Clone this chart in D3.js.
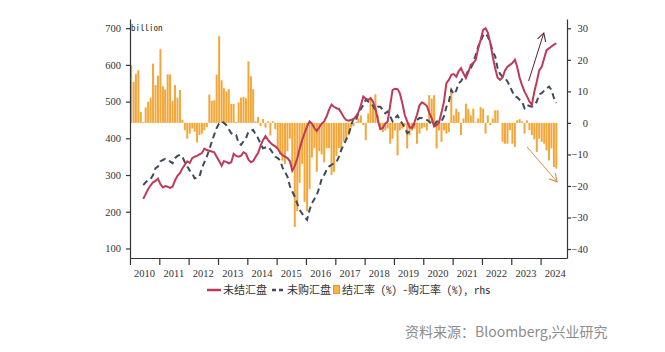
<!DOCTYPE html>
<html>
<head>
<meta charset="utf-8">
<script src="https://cdn.jsdelivr.net/npm/d3@7"></script>
<style>
  body { margin: 0; background: #fff; }
  svg { display: block; }
</style>
</head>
<body>
<div id="chart"></div>
<script>
// monthly series, bars start Jan 2010, lines start Jun 2010
var barStart = "2010-01", lineStart = "2010-06";

// 结汇率(%) - 购汇率(%), rhs
var netRate = [
  18.3, 13, 15.6, 16.7, 3.5, 0.3, 4.9, 6.7, 8, 18.8, 12, 15,
  23.4, 11.6, 10.6, 15.4, 15.4, 7, 12, 8, 10.4, 1, -2.3, -5,
  -3.4, -1.8, -2.8, -6.2, -3.9, -3.4, -2.3, -1.3, 9, 7, 7.2, 15.3,
  27.5, 13.5, 11, 10, 10.7, 6, 6, 0.3, 6.5, 8, 8.3, 7.8,
  19.5, 14.8, 10.7, 0.5, 1.9, -1, 1.2, -1.5, 0.5, -4, 0.5, -2,
  -8, -10, -12, -13, -9, -5, -14, -33, -28, -19, -13, -25,
  -28, -21, -11, -8, -15.5, -9, -10, -12.5, -8, -8, -16.5, -15.5,
  -10.5, -8, -8.5, -6, -5, -4, -1.5, -1, 0.3, 1.4, 2.4, -0.7,
  -5.5, 3, 8.3, 5, 9.1, 2.4, -1.8, -2.9, -2.4, -1.8, -6.6, -5,
  -2.4, -10.3, -2.4, -1.8, -0.7, -8.1, -3.9, -2.4, -1.8, -6.6, -3.4, -1.8,
  -1.3, -2.4, 8.8, 7.7, 8.8, -8.1, -2.4, -6, -2.4, -3.4, -2.9, 10.7,
  2.4, 4.5, 3.5, -3.9, 1.4, 6.1, 4.5, 2.4, 4.5, 0.2, 1.4, 5,
  4.5, -3.4, 2.4, -0.7, 1.4, 4, 4, 0, -6, -6.6, -6.6, -2.3,
  -6.6, -7.6, 0.8, 1.2, 0.5, -3.4, 0.8, -2.3, -3.9, -5.2, -9.2, -5,
  -6, -6.6, -8.7, -11.9, -8.1, -14, -14.5
];

// 未结汇盘, billion
var unsettled = [
  235, 248, 262, 272, 280, 284, 290,
  275, 266, 270, 268, 265, 268, 285, 298, 305, 318, 328, 337,
  333, 346, 350, 352, 356, 360, 372, 368, 366, 364, 362, 350,
  338, 325, 338, 336, 332, 335, 358, 352, 350, 353, 362, 358,
  342, 335, 338, 350, 360, 380, 395, 406, 396, 388, 382, 378,
  372, 360, 354, 350, 346, 338, 312, 325, 345, 372, 395, 414,
  432, 446, 440, 428, 420, 430, 440, 446, 460, 478, 492, 486,
  482, 480, 470, 458, 450, 448, 450, 452, 460, 470, 490, 514,
  508, 505, 509, 500, 482, 450, 425, 428, 440, 446, 490, 532,
  535, 534, 523, 496, 464, 446, 430, 428, 445, 464, 490, 498,
  494, 488, 470, 455, 432, 436, 443, 470, 500, 550, 559, 573,
  575, 568, 582, 591, 577, 564, 580, 600, 605, 614, 645, 668,
  695, 700, 688, 660, 623, 590, 565, 559, 566, 585, 595, 600,
  605, 614, 595, 565, 545, 527, 515, 500, 491, 527, 555, 585,
  595, 618, 640, 645, 650, 655, 659
];

// 未购汇盘, billion
var unpurchased = [
  273, 280, 287, 289, 300, 319, 323,
  337, 341, 344, 340, 337, 332, 346, 352, 355, 350, 335, 323,
  312, 305, 291, 293, 296, 319, 335, 350, 370, 390, 410, 428,
  440, 446, 442, 436, 425, 414, 410, 409, 387, 382, 392, 400,
  418, 420, 423, 410, 400, 385, 373, 375, 377, 370, 360, 350,
  346, 340, 320, 309, 296, 270, 255, 241, 222, 205, 195, 185,
  178, 205, 223, 235, 246, 265, 290, 300, 314, 323, 328, 332,
  335, 350, 368, 382, 396, 410, 432, 455, 450, 468, 480, 491,
  505, 500, 496, 488, 477, 486, 486, 478, 468, 473, 460, 446,
  455, 462, 450, 440, 430, 414, 418, 430, 440, 450, 455, 455,
  452, 450, 446, 438, 436, 446, 446, 446, 460, 486, 500, 532,
  520, 530, 550, 555, 568, 570, 586, 591, 605, 627, 650, 664,
  680, 686, 677, 660, 636, 623, 591, 575, 568, 564, 555, 541,
  527, 514, 512, 505, 500, 482, 491, 488, 486, 490, 500, 520,
  523, 530, 536, 541, 532, 510, 496
];

var years = [2010, 2011, 2012, 2013, 2014, 2015, 2016, 2017, 2018, 2019, 2020, 2021, 2022, 2023, 2024];
var leftTicks = [100, 200, 300, 400, 500, 600, 700];
var rightTicks = [-40, -30, -20, -10, 0, 10, 20, 30];

// annotation arrows: [date, value]
var upArrow = [["2023-08-05", 556], ["2024-02-10", 687]];      // left axis
var downArrow = [["2023-07-16", -7.6], ["2024-07-25", -18.7]];  // right axis

var width = 665, height = 352;
var parseMonth = d3.timeParse("%Y-%m");
var parseDay = d3.timeParse("%Y-%m-%d");
var serif = "'Liberation Serif', 'DejaVu Serif', serif";
var mono = "'Noto Sans Mono CJK SC', 'Noto Sans CJK SC', monospace";

function months(start, n) {
  var s = parseMonth(start);
  return d3.timeMonth.range(s, d3.timeMonth.offset(s, n));
}
var mid = d => d3.timeDay.offset(d, 14);

var barData = months(barStart, netRate.length).map((d, i) => ({ date: d, value: netRate[i] }));
var lineDates = months(lineStart, unsettled.length);
var redData = lineDates.map((d, i) => ({ date: d, value: unsettled[i] }));
var dashData = lineDates.map((d, i) => ({ date: d, value: unpurchased[i] }));

var x = d3.scaleTime().domain([new Date(2010, 0, 1), new Date(2024, 10, 25)]).range([130, 567]);
var yL = d3.scaleLinear().domain([74, 725]).range([258, 19]);
var yR = d3.scaleLinear().domain([-42.85, 32.95]).range([258, 19]);

var svg = d3.select("#chart").append("svg")
  .attr("width", width)
  .attr("height", height);

svg.append("defs").selectAll("marker")
  .data([["arrUp", "#5a2030"], ["arrDown", "#d4914a"]])
  .enter().append("marker")
  .attr("id", d => d[0])
  .attr("viewBox", "0 0 10 10")
  .attr("refX", 9).attr("refY", 5)
  .attr("markerWidth", 9).attr("markerHeight", 9)
  .attr("markerUnits", "userSpaceOnUse")
  .attr("orient", "auto")
  .append("path")
  .attr("d", "M0,0 L9,5 L0,10")
  .attr("fill", "none")
  .attr("stroke", d => d[1])
  .attr("stroke-width", 1.2);

// bars
svg.append("g").selectAll("rect")
  .data(barData)
  .enter().append("rect")
  .attr("x", d => x(mid(d.date)) - 1)
  .attr("width", 2)
  .attr("y", d => yR(Math.max(0, d.value)))
  .attr("height", d => Math.abs(yR(d.value) - yR(0)))
  .attr("fill", "#f3a73a");

// lines
var lineL = d3.line().x(d => x(mid(d.date))).y(d => yL(d.value));

svg.append("path")
  .datum(dashData)
  .attr("d", lineL)
  .attr("fill", "none")
  .attr("stroke", "#3f4a5c")
  .attr("stroke-width", 2)
  .attr("stroke-dasharray", "6,4");

svg.append("path")
  .datum(redData)
  .attr("d", lineL)
  .attr("fill", "none")
  .attr("stroke", "#bf3a58")
  .attr("stroke-width", 2);

// arrows
svg.append("line")
  .attr("x1", x(parseDay(upArrow[0][0]))).attr("y1", yL(upArrow[0][1]))
  .attr("x2", x(parseDay(upArrow[1][0]))).attr("y2", yL(upArrow[1][1]))
  .attr("stroke", "#5a2030").attr("stroke-width", 1)
  .attr("marker-end", "url(#arrUp)");

svg.append("line")
  .attr("x1", x(parseDay(downArrow[0][0]))).attr("y1", yR(downArrow[0][1]))
  .attr("x2", x(parseDay(downArrow[1][0]))).attr("y2", yR(downArrow[1][1]))
  .attr("stroke", "#d4914a").attr("stroke-width", 1)
  .attr("marker-end", "url(#arrDown)");

// axes
var gL = svg.append("g")
  .attr("transform", "translate(130,0)")
  .call(d3.axisLeft(yL).tickValues(leftTicks).tickSize(4).tickSizeOuter(0).tickPadding(5));

var gR = svg.append("g")
  .attr("transform", "translate(567,0)")
  .call(d3.axisRight(yR).tickValues(rightTicks).tickSize(4).tickSizeOuter(0).tickPadding(5));
gR.selectAll("text").attr("text-anchor", "end").attr("x", 21);

var gB = svg.append("g")
  .attr("transform", "translate(0,258)")
  .call(d3.axisBottom(x).ticks(d3.timeYear.every(1)).tickFormat("").tickSize(7).tickSizeOuter(0));

svg.selectAll(".domain, .tick line").attr("stroke", "#333").attr("stroke-width", 1.2);
svg.selectAll(".tick text")
  .attr("font-family", serif)
  .attr("font-size", 10.5)
  .attr("fill", "#333");

svg.append("g").selectAll("text")
  .data(years)
  .enter().append("text")
  .attr("x", d => x(new Date(d, 6, 2)))
  .attr("y", 277)
  .attr("text-anchor", "middle")
  .attr("font-family", serif)
  .attr("font-size", 10.5)
  .attr("fill", "#333")
  .text(d => d);

svg.append("text")
  .attr("x", 131).attr("y", 31)
  .attr("font-family", mono)
  .attr("font-size", 9)
  .attr("fill", "#333")
  .text("billion");

// legend
var lg = svg.append("g").attr("font-family", mono).attr("font-size", 11).attr("fill", "#333");
lg.append("line").attr("x1", 207).attr("x2", 221).attr("y1", 290).attr("y2", 290)
  .attr("stroke", "#bf3a58").attr("stroke-width", 2.5);
lg.append("text").attr("x", 223).attr("y", 294).text("未结汇盘");
lg.append("line").attr("x1", 272).attr("x2", 285).attr("y1", 290).attr("y2", 290)
  .attr("stroke", "#3f4a5c").attr("stroke-width", 2.5).attr("stroke-dasharray", "4,3");
lg.append("text").attr("x", 287).attr("y", 294).text("未购汇盘");
lg.append("rect").attr("x", 333.5).attr("y", 285.5).attr("width", 6).attr("height", 8)
  .attr("fill", "#f6b44a").attr("stroke", "#e8981f").attr("stroke-width", 1);
lg.append("text").attr("x", 342).attr("y", 294).text("结汇率 (%) -购汇率 (%), rhs");

svg.append("text")
  .attr("x", 405).attr("y", 337)
  .attr("font-family", "'Noto Sans CJK SC', sans-serif")
  .attr("font-size", 14)
  .attr("fill", "#8c8c8c")
  .text("资料来源：Bloomberg,兴业研究");
</script>
</body>
</html>
